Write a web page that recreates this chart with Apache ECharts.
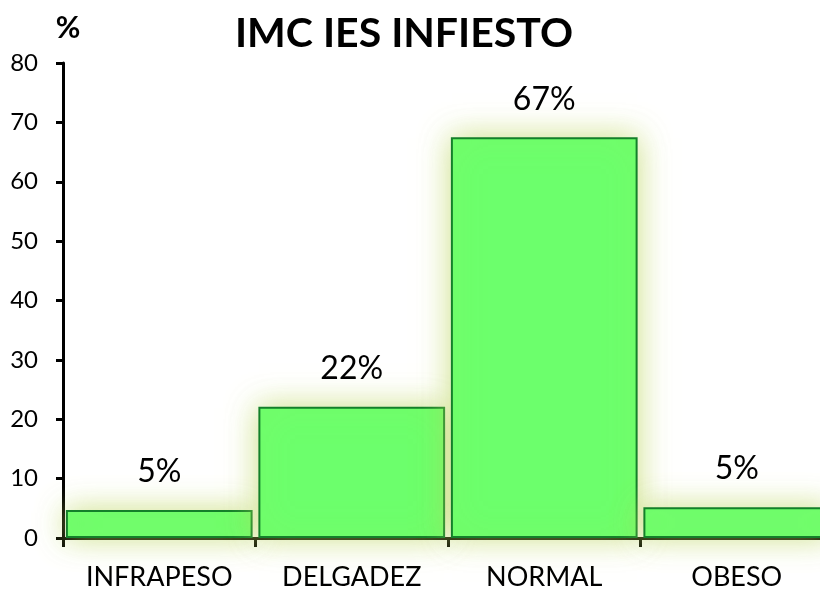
<!DOCTYPE html>
<html>
<head>
<meta charset="utf-8">
<script src="https://cdn.jsdelivr.net/npm/echarts@6/dist/echarts.min.js"></script>
<style>
  html, body { margin: 0; padding: 0; background: #fff; }
  #chart { width: 820px; height: 589px; }
</style>
</head>
<body>
<div id="chart"></div>
<script>
const categories = ["INFRAPESO", "DELGADEZ", "NORMAL", "OBESO"];
const values = [4.7, 22.1, 67.5, 5.2];
const labels = ["5%", "22%", "67%", "5%"];

const chart = echarts.init(document.getElementById("chart"));

const option = {
  animation: false,
  backgroundColor: "#fff",
  textStyle: { fontFamily: "Lato" },
  title: {
    text: "IMC IES INFIESTO",
    left: 399,
    textAlign: "center",
    top: 8,
    textStyle: { fontFamily: "Lato", fontWeight: "bold", fontSize: 41, color: "#000" },
  },
  grid: { left: 63, width: 770, top: 63, bottom: 51, outerBoundsMode: "none" },
  xAxis: {
    type: "category",
    data: categories,
    axisLine: { lineStyle: { color: "#000", width: 3 } },
    axisTick: { show: true, length: 9, interval: 0, lineStyle: { color: "#000", width: 3 } },
    axisLabel: { color: "#000", fontSize: 27, margin: 26, interval: 0, fontFamily: "Lato" },
  },
  yAxis: {
    type: "value",
    min: 0,
    max: 80,
    interval: 10,
    name: "%",
    nameLocation: "end",
    nameGap: 20,
    nameTextStyle: { fontFamily: "Lato", fontWeight: "bold", fontSize: 30, color: "#000", align: "center", padding: [0, 0, 0, 10] },
    axisLine: { show: true, lineStyle: { color: "#000", width: 3 } },
    axisTick: { show: true, length: 7, lineStyle: { color: "#000", width: 3 } },
    axisLabel: { color: "#000", fontSize: 24, margin: 25, fontFamily: "Lato" },
    splitLine: { show: false },
  },
  series: [
    {
      type: "bar",
      data: values,
      barWidth: "97%",
      itemStyle: {
        color: "#6cff6c",
        borderColor: "#13802a",
        borderWidth: 2,
        shadowColor: "rgba(190, 215, 95, 0.75)",
        shadowBlur: 30,
      },
      label: {
        show: true,
        position: "top",
        distance: 22,
        color: "#000",
        fontSize: 32,
        fontFamily: "Lato",
        formatter: (p) => labels[p.dataIndex],
      },
    },
  ],
};

chart.setOption(option);
</script>
</body>
</html>
